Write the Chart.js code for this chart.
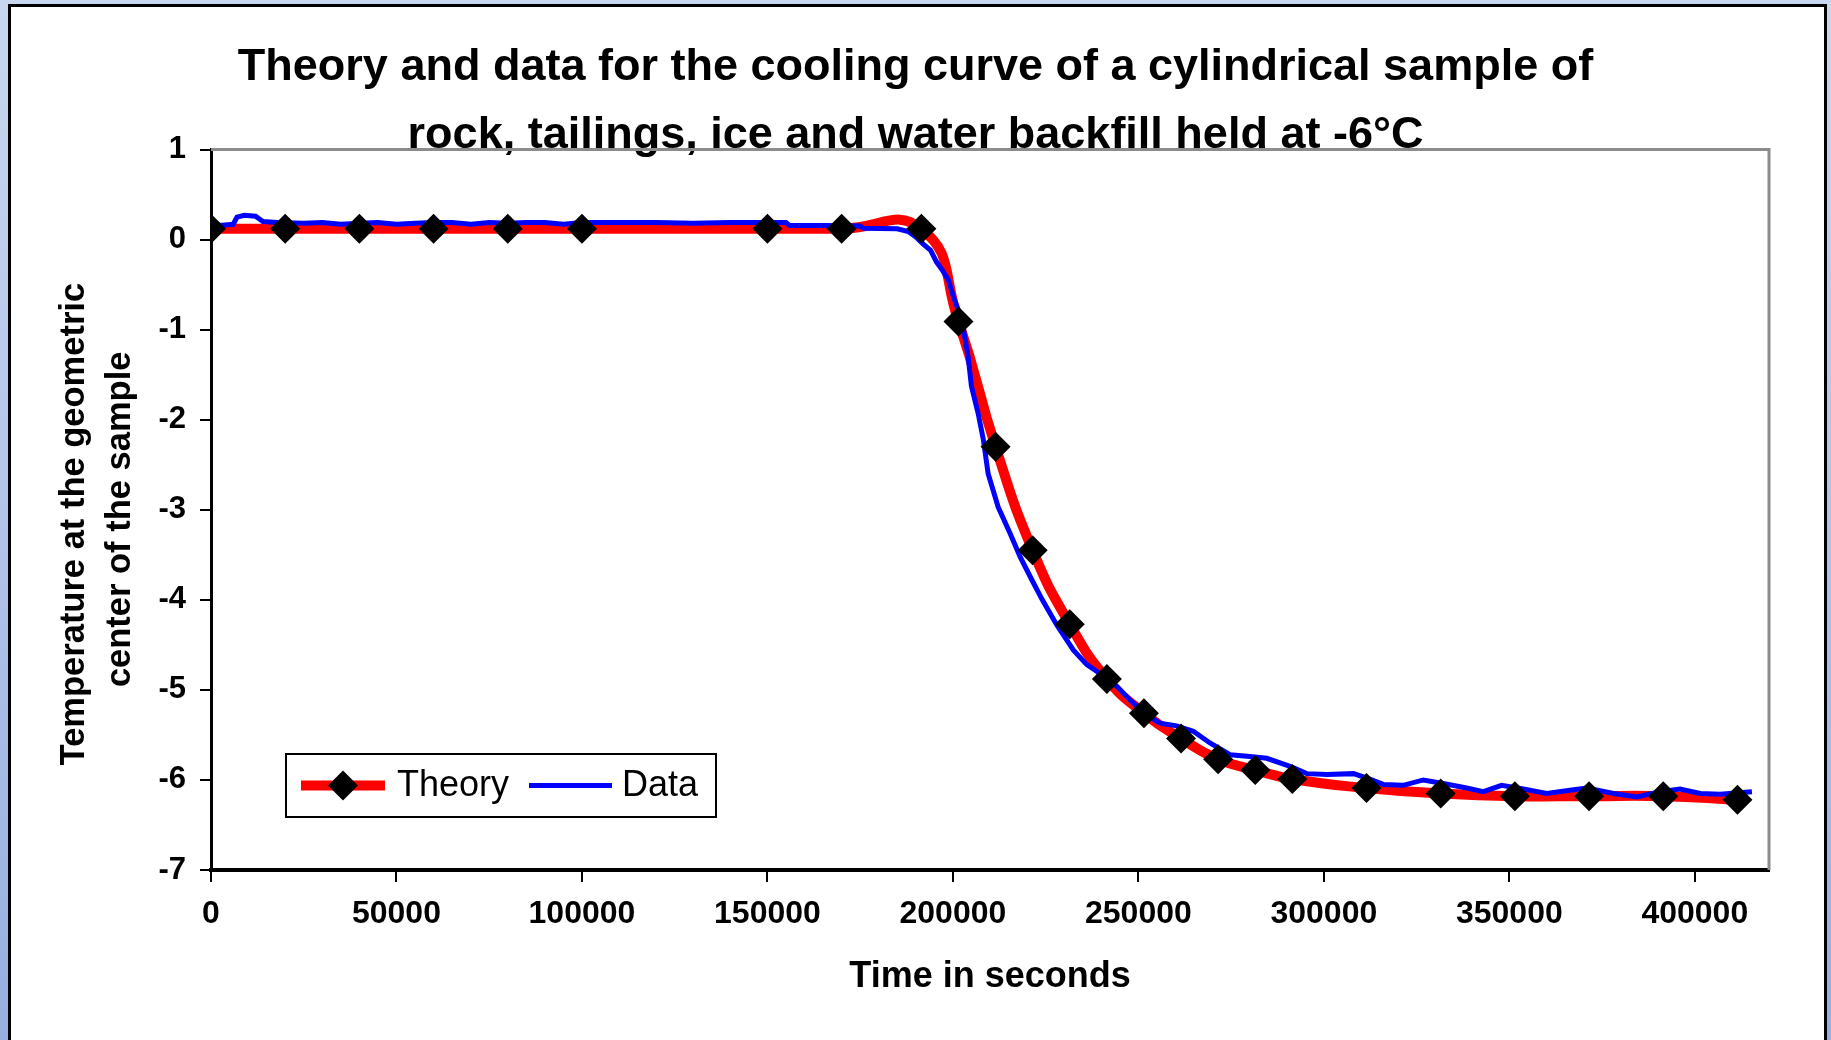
<!DOCTYPE html>
<html>
<head>
<meta charset="utf-8">
<script src="https://cdn.jsdelivr.net/npm/chart.js@4/dist/chart.umd.min.js"></script>
<style>
  html, body { margin: 0; padding: 0; width: 1831px; height: 1040px; overflow: hidden; }
  body { background: linear-gradient(to bottom, #c9d6ef 0%, #b2c4e8 50%, #97afdf 100%); position: relative; }
  #frame { position: absolute; left: 8px; top: 4px; width: 1813px; height: 1100px; border: 3px solid #000; background: #fff; }
  #c { position: absolute; left: 0; top: 0; }
</style>
</head>
<body>
<div id="frame"></div>
<canvas id="c" width="1831" height="1040"></canvas>
<script>
// ---- Data ----
const titleLines = ['Theory and data for the cooling curve of a cylindrical sample of',
                    'rock, tailings, ice and water backfill held at -6°C'];
const xAxisTitle = 'Time in seconds';
const yAxisTitle = ['Temperature at the geometric   ', 'center of the sample  '];
const seriesNames = ['Theory', 'Data'];

const xMin = 0, xMax = 420000;
const yMin = -7, yMax = 1;
const xTickValues = [0, 50000, 100000, 150000, 200000, 250000, 300000, 350000, 400000];
const yTickValues = [-7, -6, -5, -4, -3, -2, -1, 0, 1];

const theoryTime = [0, 20000, 40000, 60000, 80000, 100000, 150000, 170000, 191500, 201500,
                    211500, 221500, 231500, 241500, 251500, 261500, 271500, 281500, 291500,
                    311500, 331500, 351500, 371500, 391500, 411500];
const theoryTemp = [0.12, 0.12, 0.12, 0.12, 0.12, 0.12, 0.12, 0.12, 0.12, -0.91,
                    -2.30, -3.45, -4.27, -4.88, -5.26, -5.54, -5.77, -5.89, -5.99,
                    -6.09, -6.15, -6.18, -6.18, -6.18, -6.22];

const dataTime = [0, 3000, 6000, 7000, 9000, 12000, 14000, 18000, 25000, 30000, 35000, 40000,
                  45000, 50000, 55000, 60000, 65000, 70000, 75000, 80000, 85000, 90000, 95000,
                  100000, 110000, 120000, 130000, 140000, 150000, 155000, 156000, 165000, 175000,
                  176000, 185000, 188000, 190000, 192000, 194000, 195600, 197000, 198800, 200100,
                  202400, 204100, 205000, 206800, 208200, 209500, 212200, 215400, 218100, 221300,
                  224100, 228000, 232500, 236100, 239700, 244200, 247700, 252200, 255800, 260300,
                  264800, 269300, 274700, 280100, 284600, 290900, 295400, 300800, 308000, 312400,
                  316000, 321400, 326800, 332200, 338500, 343000, 347900, 353800, 360100, 367300,
                  370900, 378100, 384400, 390700, 396000, 401500, 406800, 415400];
const dataTemp = [0.16, 0.16, 0.17, 0.25, 0.27, 0.26, 0.20, 0.19, 0.18, 0.19, 0.17, 0.18,
                  0.19, 0.17, 0.18, 0.19, 0.19, 0.17, 0.19, 0.18, 0.19, 0.19, 0.17,
                  0.19, 0.19, 0.19, 0.18, 0.19, 0.19, 0.19, 0.155, 0.155, 0.15,
                  0.125, 0.12, 0.09, 0.03, -0.05, -0.12, -0.25, -0.33, -0.45, -0.63,
                  -0.89, -1.30, -1.63, -1.93, -2.22, -2.60, -2.97, -3.26, -3.52, -3.78,
                  -4.00, -4.28, -4.56, -4.72, -4.82, -4.96, -5.11, -5.28, -5.37, -5.40,
                  -5.46, -5.59, -5.72, -5.74, -5.76, -5.85, -5.93, -5.94, -5.93, -5.99,
                  -6.05, -6.06, -6.00, -6.04, -6.09, -6.13, -6.06, -6.10, -6.15, -6.11,
                  -6.09, -6.15, -6.19, -6.13, -6.10, -6.15, -6.16, -6.13];

const theoryColor = '#ff0000';
const dataColor = '#0000ff';
const markerColor = '#000000';
const FONT = "'Liberation Sans', Arial, sans-serif";

const theoryPts = theoryTime.map((t, i) => ({x: t, y: theoryTemp[i]}));
const dataPts = dataTime.map((t, i) => ({x: t, y: dataTemp[i]}));

// Plot frame (grey top/right edges like the original)
const frameBorder = {
  id: 'frameBorder',
  beforeDatasetsDraw(chart) {
    const {ctx, chartArea: a} = chart;
    ctx.save();
    ctx.strokeStyle = '#8c8c8c';
    ctx.lineWidth = 3;
    ctx.beginPath();
    ctx.moveTo(a.left, a.top);
    ctx.lineTo(a.right, a.top);
    ctx.lineTo(a.right, a.bottom);
    ctx.stroke();
    ctx.restore();
  }
};

// Boxed legend placed inside the plot, lower-left
const boxLegend = {
  id: 'boxLegend',
  afterDraw(chart) {
    const {ctx} = chart;
    const bx = 286, by = 754, bw = 430, bh = 63, cy = by + bh / 2;
    ctx.save();
    ctx.fillStyle = '#fff';
    ctx.fillRect(bx, by, bw, bh);
    ctx.strokeStyle = '#000';
    ctx.lineWidth = 2;
    ctx.strokeRect(bx, by, bw, bh);
    // Theory
    ctx.strokeStyle = theoryColor; ctx.lineWidth = 10;
    ctx.beginPath(); ctx.moveTo(301, cy); ctx.lineTo(385, cy); ctx.stroke();
    ctx.fillStyle = markerColor;
    ctx.beginPath();
    ctx.moveTo(343, cy - 15); ctx.lineTo(358, cy); ctx.lineTo(343, cy + 15); ctx.lineTo(328, cy);
    ctx.closePath(); ctx.fill();
    // Data
    ctx.strokeStyle = dataColor; ctx.lineWidth = 5;
    ctx.beginPath(); ctx.moveTo(529, cy); ctx.lineTo(612, cy); ctx.stroke();
    ctx.fillStyle = '#000';
    ctx.font = '36px ' + FONT;
    ctx.textBaseline = 'middle';
    ctx.textAlign = 'left';
    ctx.fillText(chart.data.datasets[0].label, 397, cy + 1);
    ctx.fillText(chart.data.datasets[1].label, 622, cy + 1);
    ctx.restore();
  }
};

new Chart(document.getElementById('c'), {
  type: 'line',
  data: {
    datasets: [
      { label: seriesNames[0], data: theoryPts, showLine: false, pointStyle: 'rectRot',
        pointRadius: 15, pointBackgroundColor: markerColor, pointBorderColor: markerColor,
        pointBorderWidth: 0, order: 0 },
      { label: seriesNames[1], data: dataPts, borderColor: dataColor, borderWidth: 5,
        pointRadius: 0, tension: 0, order: 1 },
      { label: seriesNames[0] + ' line', data: theoryPts, borderColor: theoryColor, borderWidth: 10,
        pointRadius: 0, tension: 0.5, order: 2, borderCapStyle: 'round' }
    ]
  },
  options: {
    responsive: false,
    animation: false,
    devicePixelRatio: 1,
    layout: { padding: 0 },
    plugins: {
      legend: { display: false },
      tooltip: { enabled: false },
      title: {
        display: true,
        text: titleLines,
        color: '#000',
        font: { family: FONT, size: 45, weight: 'bold', lineHeight: '68px' },
        padding: { top: 33.5, bottom: -20 }
      }
    },
    scales: {
      x: {
        type: 'linear', position: 'bottom',
        min: xMin, max: xMax,
        afterFit(s) { s.height = 170; },
        afterBuildTicks(s) { s.ticks = xTickValues.map(v => ({value: v})); },
        ticks: { color: '#000', padding: 13,
                 font: { family: FONT, size: 32, weight: 'bold' },
                 maxRotation: 0, autoSkip: false,
                 callback: v => String(v) },
        grid: { drawOnChartArea: false, drawTicks: true, tickLength: 12, color: '#000', lineWidth: 2 },
        border: { display: true, color: '#000', width: 4 },
        title: { display: true, text: xAxisTitle, color: '#000',
                 font: { family: FONT, size: 36, weight: 'bold', lineHeight: 1.2 },
                 padding: { top: 0, bottom: 41 } }
      },
      y: {
        type: 'linear', position: 'left',
        min: yMin, max: yMax,
        afterFit(s) { s.width = 211; },
        afterBuildTicks(s) { s.ticks = yTickValues.map(v => ({value: v})); },
        ticks: { color: '#000', padding: 14,
                 font: { family: FONT, size: 31, weight: 'bold' },
                 callback: v => String(v) },
        grid: { drawOnChartArea: false, drawTicks: true, tickLength: 11, color: '#000', lineWidth: 2 },
        border: { display: true, color: '#000', width: 3 },
        title: { display: true, text: yAxisTitle, color: '#000',
                 font: { family: FONT, size: 34.5, weight: 'bold', lineHeight: '46px' },
                 padding: { top: 51, bottom: 0 } }
      },
      yRightSpace: {
        type: 'linear', position: 'right', display: true,
        afterFit(s) { s.width = 62; },
        ticks: { display: false },
        grid: { display: false, drawTicks: false },
        border: { display: false }
      }
    }
  },
  plugins: [frameBorder, boxLegend]
});
</script>
</body>
</html>
